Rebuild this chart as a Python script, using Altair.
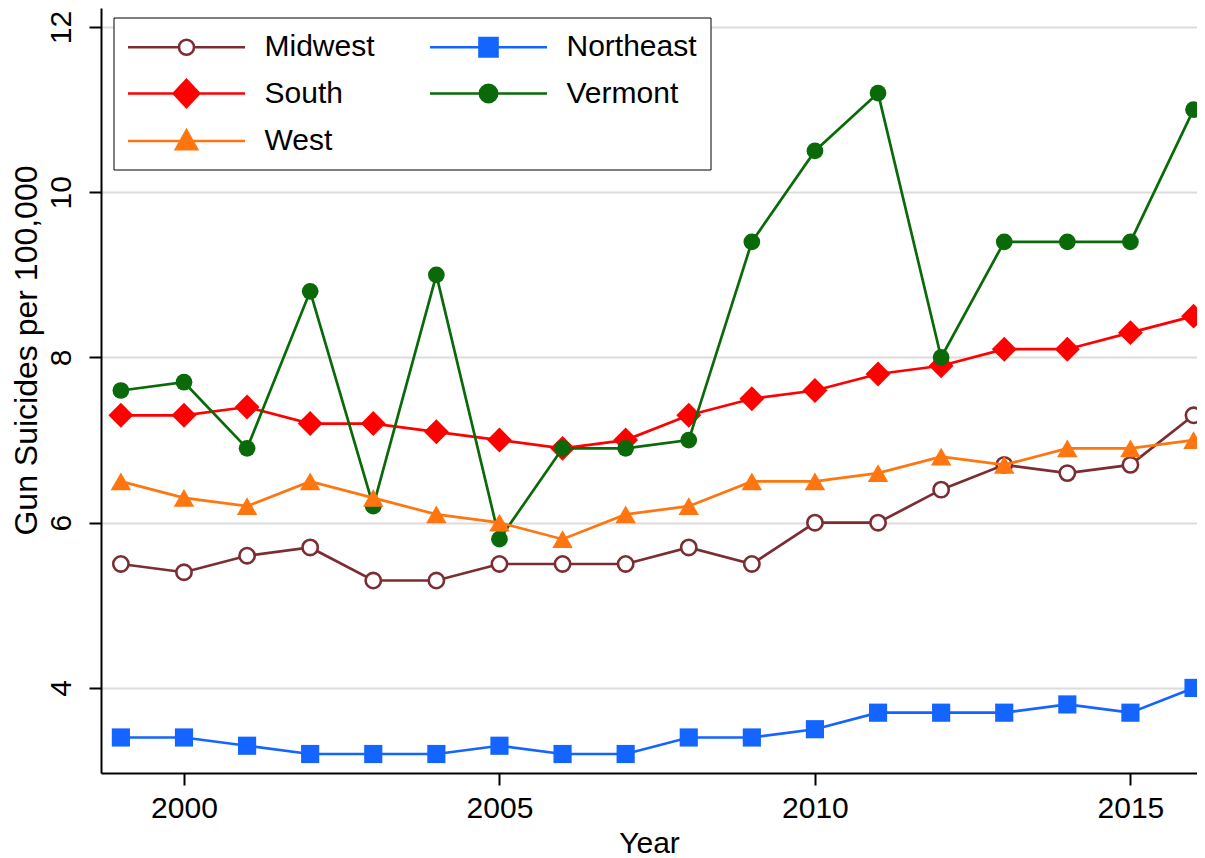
import altair as alt
import pandas as pd

years = list(range(1999, 2017))
regions = ["Midwest", "Northeast", "South", "Vermont", "West"]

midwest = [5.5, 5.4, 5.6, 5.7, 5.3, 5.3, 5.5, 5.5, 5.5, 5.7, 5.5, 6.0, 6.0, 6.4, 6.7, 6.6, 6.7, 7.3]
northeast = [3.4, 3.4, 3.3, 3.2, 3.2, 3.2, 3.3, 3.2, 3.2, 3.4, 3.4, 3.5, 3.7, 3.7, 3.7, 3.8, 3.7, 4.0]
south = [7.3, 7.3, 7.4, 7.2, 7.2, 7.1, 7.0, 6.9, 7.0, 7.3, 7.5, 7.6, 7.8, 7.9, 8.1, 8.1, 8.3, 8.5]
vermont = [7.6, 7.7, 6.9, 8.8, 6.2, 9.0, 5.8, 6.9, 6.9, 7.0, 9.4, 10.5, 11.2, 8.0, 9.4, 9.4, 9.4, 11.0]
west = [6.5, 6.3, 6.2, 6.5, 6.3, 6.1, 6.0, 5.8, 6.1, 6.2, 6.5, 6.5, 6.6, 6.8, 6.7, 6.9, 6.9, 7.0]
series = [midwest, northeast, south, vermont, west]

colors = ["#7B2D33", "#1464FF", "#FF0000", "#0A6A0A", "#FF7610"]
fills = ["#FFFFFF", "#1464FF", "#FF0000", "#0A6A0A", "#FF7610"]
shapes = ["circle", "square", "diamond", "circle", "triangle-up"]
sizes = [235, 330, 620, 280, 420]
stroke_widths = [2.6, 0, 0, 0, 0]

# legend is filled column by column: this order gives rows
# (Midwest, Northeast), (South, Vermont), (West)
legend_order = ["Midwest", "South", "West", "Northeast", "Vermont"]

x_ticks = [2000, 2005, 2010, 2015]
y_ticks = [4, 6, 8, 10, 12]

rows = []
for r, vals in zip(regions, series):
    for yr, v in zip(years, vals):
        rows.append({"region": r, "year": yr, "value": v})
df = pd.DataFrame(rows)

# legend symbols: line + marker as custom paths (unit = 15px when symbolSize = 900)
legend_paths = [
    "M-1,0H2.4M3.4,0H6.8M3.4,0A0.5,0.5 0 1,1 2.4,0A0.5,0.5 0 1,1 3.4,0Z",
    "M-1,0H6.8M2.3,-0.62H3.5V0.62H2.3Z",
    "M-1,0H6.8M2.05,0L2.9,-0.9L3.75,0L2.9,0.9Z",
    "M-1,0H6.8M3.48,0A0.58,0.58 0 1,1 2.32,0A0.58,0.58 0 1,1 3.48,0Z",
    "M-1,0H6.8M2.9,-0.7L3.6,0.55L2.2,0.55Z",
]


def in_legend_order(values):
    lookup = dict(zip(regions, values))
    return [lookup[r] for r in legend_order]


FONT = "Liberation Sans"

x_enc = alt.X(
    "year:Q",
    scale=alt.Scale(domain=[1998.685, 2016.055], nice=False, zero=False),
    axis=alt.Axis(values=x_ticks, format="d", title="Year", grid=False,
                  tickSize=12, labelPadding=8, titlePadding=5),
)
y_enc = alt.Y(
    "value:Q",
    scale=alt.Scale(domain=[2.97, 12.23], nice=False, zero=False),
    axis=alt.Axis(values=y_ticks, title="Gun Suicides per 100,000", grid=True,
                  labelAngle=270, labelAlign="center", labelBaseline="bottom",
                  tickSize=12, labelPadding=13, titlePadding=3,
                  titleFontSize=32, titleY=342),
)

legend = alt.Legend(
    title=None, orient="none", legendX=12.5, legendY=9.5, columns=2,
    symbolSize=900, symbolStrokeWidth=2.6, labelOffset=105,
    labelFontSize=30, labelFont=FONT, labelColor="black", labelLimit=400,
    strokeColor="black", fillColor="white", padding=13,
    rowPadding=11.5, columnPadding=49,
)

stroke_scale = alt.Scale(domain=legend_order, range=in_legend_order(colors))

layers = []
for i, r in enumerate(regions):
    sub = alt.Chart(df).transform_filter(alt.datum.region == r)
    layers.append(
        sub.mark_line(strokeWidth=2.7).encode(
            x=x_enc, y=y_enc,
            stroke=alt.Stroke("region:N", scale=stroke_scale, legend=legend),
        )
    )
    layers.append(
        sub.mark_point(
            shape=shapes[i], size=sizes[i], fill=fills[i], stroke=colors[i],
            strokeWidth=stroke_widths[i], opacity=1, fillOpacity=1,
        ).encode(x=x_enc, y=y_enc)
    )

# legend-only layer (no data rows drawn)
legend_layer = alt.Chart(df).transform_filter("false").mark_point(
    filled=True, strokeWidth=2.6, opacity=1
).encode(
    x=x_enc, y=y_enc,
    stroke=alt.Stroke("region:N", scale=stroke_scale, legend=legend),
    fill=alt.Fill("region:N", scale=alt.Scale(domain=legend_order, range=in_legend_order(fills)), legend=legend),
    shape=alt.Shape("region:N", scale=alt.Scale(domain=legend_order, range=in_legend_order(legend_paths)), legend=legend),
)
layers.append(legend_layer)

chart = alt.layer(*layers).properties(
    width=1096,
    height=765,
    autosize=alt.AutoSizeParams(type="none"),
    padding={"left": 93, "top": 0, "right": 0, "bottom": 85},
).configure_view(stroke=None).configure_axis(
    domainColor="black", domainWidth=2, tickColor="black", tickWidth=2,
    gridColor="#DCDCDC", gridWidth=2, labelFont=FONT, labelFontSize=30,
    labelColor="black", titleFont=FONT, titleFontSize=30,
    titleFontWeight="normal", titleColor="black",
).configure_legend(labelFont=FONT)

chart.save("out.html", embed_options={"renderer": "svg", "actions": False})
